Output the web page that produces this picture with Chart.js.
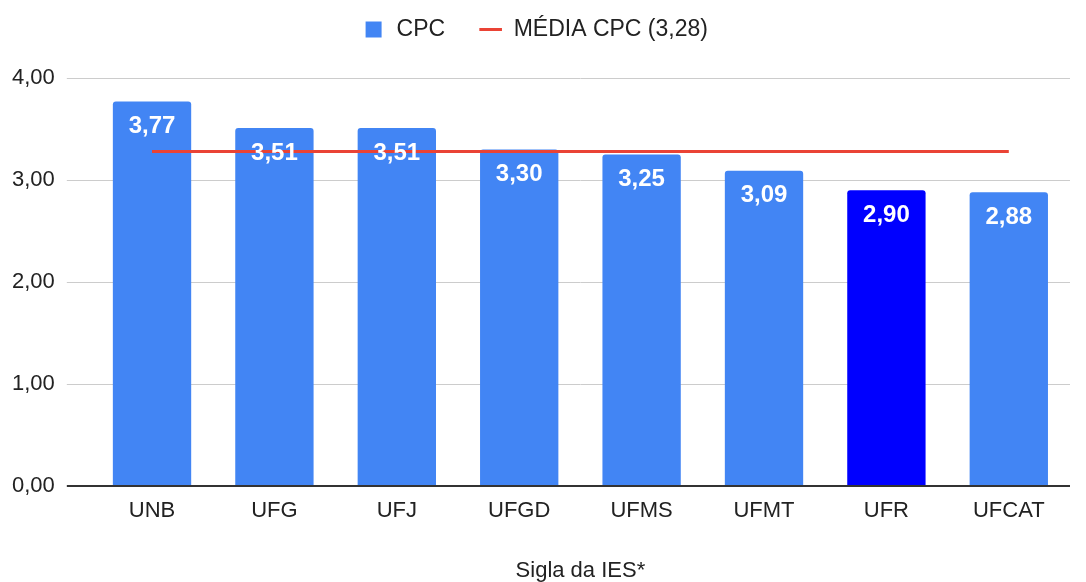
<!DOCTYPE html>
<html>
<head>
<meta charset="utf-8">
<script src="https://cdn.jsdelivr.net/npm/chart.js@4"></script>
<style>
  html, body { margin: 0; padding: 0; background: #fff; }
  #wrap { width: 1086px; height: 582px; }
</style>
</head>
<body>
<div id="wrap"><canvas id="chart" width="1086" height="582"></canvas></div>
<script>
const labels = ['UNB', 'UFG', 'UFJ', 'UFGD', 'UFMS', 'UFMT', 'UFR', 'UFCAT'];
const cpc = [3.77, 3.51, 3.51, 3.30, 3.25, 3.09, 2.90, 2.88];
const mediaCpc = [3.28, 3.28, 3.28, 3.28, 3.28, 3.28, 3.28, 3.28];
const barColors = ['#4285f4', '#4285f4', '#4285f4', '#4285f4', '#4285f4', '#4285f4', '#0000ff', '#4285f4'];
const yTicks = [0, 1, 2, 3, 4];

const fmt = (v) => v.toFixed(2).replace('.', ',');
const FONT = "'Liberation Sans', Arial, sans-serif";

// value labels inside the top of each bar
const barLabels = {
  id: 'barLabels',
  afterDatasetsDraw(chart) {
    const { ctx } = chart;
    const meta = chart.getDatasetMeta(0);
    ctx.save();
    ctx.fillStyle = '#ffffff';
    ctx.font = `bold 24px ${FONT}`;
    ctx.textAlign = 'center';
    ctx.textBaseline = 'middle';
    meta.data.forEach((bar, i) => {
      ctx.fillText(fmt(cpc[i]), bar.x, bar.y + 25);
    });
    ctx.restore();
  }
};

// push the plot down below the legend
const legendGap = {
  id: 'legendGap',
  beforeInit(chart) {
    const fit = chart.legend.fit;
    chart.legend.fit = function () { fit.bind(chart.legend)(); this.height = 94; };
  }
};

new Chart(document.getElementById('chart'), {
  data: {
    labels,
    datasets: [
      { type: 'bar', label: 'CPC', data: cpc, backgroundColor: barColors, borderRadius: 3, borderSkipped: 'bottom',
        categoryPercentage: 1, barPercentage: 0.64, order: 1, pointStyle: 'rect' },
      { type: 'line', label: 'MÉDIA CPC (3,28)', data: mediaCpc, borderColor: '#ea4335', backgroundColor: '#ea4335',
        borderWidth: 3, pointRadius: 0, order: 0, pointStyle: 'line' },
    ]
  },
  options: {
    responsive: false, animation: false,
    layout: { padding: { left: 0, right: 16, top: -16, bottom: 0 } },
    plugins: {
      legend: {
        position: 'top',
        labels: {
          usePointStyle: true, boxWidth: 23, boxHeight: 16, padding: 34, color: '#222',
          font: { family: FONT, size: 23 },
          sort: (a, b) => a.datasetIndex - b.datasetIndex,
        }
      },
      tooltip: { enabled: false },
    },
    scales: {
      x: {
        grid: { display: false },
        border: { display: false },
        ticks: { color: '#222', font: { family: FONT, size: 22, lineHeight: 1 }, padding: 6 },
        title: { display: true, text: 'Sigla da IES*', color: '#222', font: { family: FONT, size: 22, lineHeight: 1 }, padding: { top: 32, bottom: 0 } },
      },
      y: {
        min: 0, max: 4,
        afterBuildTicks: (axis) => { axis.ticks = yTicks.map((v) => ({ value: v })); },
        border: { display: false },
        grid: { color: (c) => c.tick && c.tick.value === 0 ? '#333' : '#cccccc', lineWidth: (c) => c.tick && c.tick.value === 0 ? 2 : 1, tickLength: 24, drawTicks: true },
        ticks: { color: '#222', font: { family: FONT, size: 22 }, padding: 12, callback: (v) => fmt(v) },
      }
    }
  },
  plugins: [barLabels, legendGap],
});
</script>
</body>
</html>
